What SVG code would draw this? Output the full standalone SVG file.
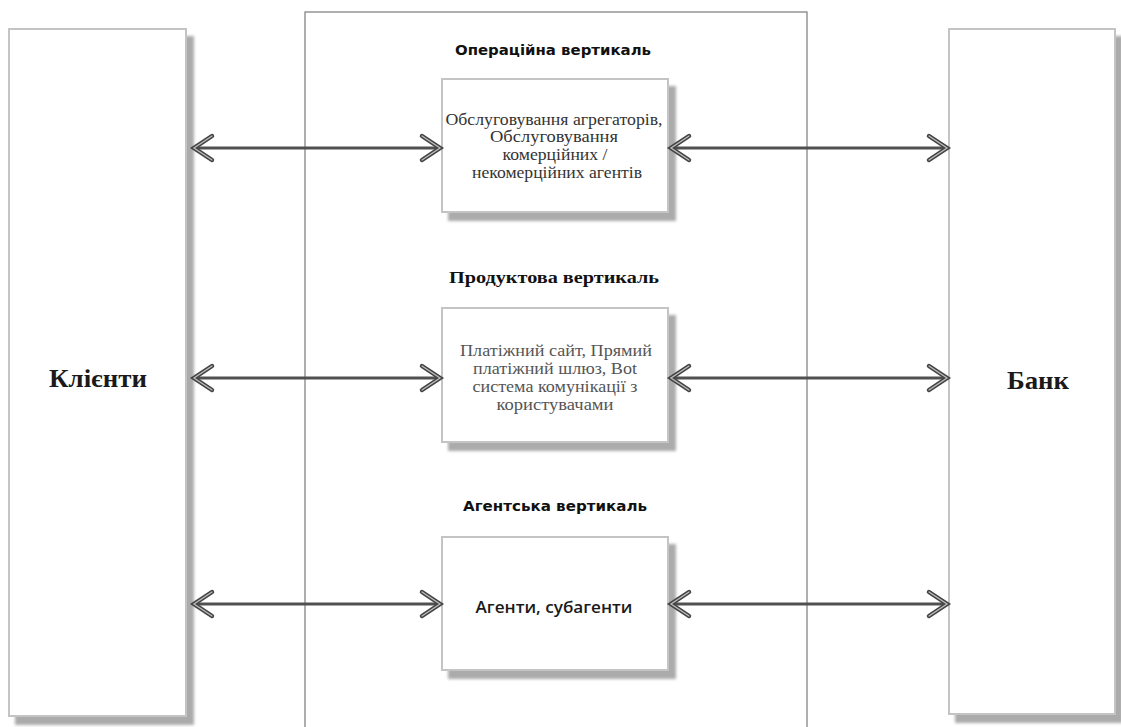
<svg xmlns="http://www.w3.org/2000/svg" width="1121" height="727" viewBox="0 0 1121 727">
  <style>
    .box { fill: #ffffff; stroke: #c4c4c4; stroke-width: 2; filter: url(#shadow); }
    .frame { fill: none; stroke: #7a7a7a; stroke-width: 1.2; }
    .link { stroke: #505050; stroke-width: 3; fill: none; marker-start: url(#chev); marker-end: url(#chev); }
    .big { font-family: "Liberation Serif", "Times New Roman", serif; font-weight: bold; font-size: 25px; fill: #1a1a1a; text-anchor: middle; }
    .title { font-family: "DejaVu Sans", Tahoma, sans-serif; font-weight: bold; font-size: 14px; fill: #111; text-anchor: middle; }
    .title-serif { font-family: "Liberation Serif", "Times New Roman", serif; font-weight: bold; font-size: 17px; fill: #111; text-anchor: middle; }
    .body { font-family: "Liberation Serif", "Times New Roman", serif; font-size: 16px; fill: #333; text-anchor: middle; }
    .body-grey { font-family: "Liberation Serif", "Times New Roman", serif; font-size: 16px; fill: #555; text-anchor: middle; }
    .body-sans { font-family: "Open Sans", "Liberation Sans", Arial, sans-serif; font-size: 16px; font-weight: 600; fill: #1a1a1a; text-anchor: middle; }
  </style>
  <defs>
    <filter id="shadow" x="-10%" y="-10%" width="130%" height="130%">
      <feDropShadow dx="7" dy="8" stdDeviation="1.5" flood-color="#8f8f8f" flood-opacity="0.75"/>
    </filter>
    <!-- open double-outlined chevron arrowhead, tip at origin, opening backwards -->
    <marker id="chev" viewBox="-24 -16 28 32" markerWidth="28" markerHeight="32" refX="0" refY="0" orient="auto-start-reverse" markerUnits="userSpaceOnUse">
      <path d="M-19,-12 L-1,0 L-19,12" fill="none" stroke="#444" stroke-width="4.5" stroke-linejoin="miter" stroke-linecap="round"/>
      <path d="M-19,-12 L-1,0 L-19,12" fill="none" stroke="#bdbdbd" stroke-width="1.3" stroke-linejoin="miter" stroke-linecap="round"/>
    </marker>
  </defs>

  <rect width="1121" height="727" fill="#ffffff"/>

  <!-- central frame holding the three verticals -->
  <rect class="frame" x="305" y="12" width="502" height="730"/>

  <g id="clients">
    <rect class="box" x="9" y="29" width="177" height="687"/>
    <text class="big" x="98" y="387" textLength="98" lengthAdjust="spacingAndGlyphs">Клієнти</text>
  </g>

  <g id="bank">
    <rect class="box" x="949" y="29" width="166" height="685"/>
    <text class="big" x="1038" y="389" textLength="62" lengthAdjust="spacingAndGlyphs">Банк</text>
  </g>

  <g id="operational">
    <text class="title" x="553" y="55" textLength="196" lengthAdjust="spacingAndGlyphs">Операційна вертикаль</text>
    <rect class="box" x="442" y="79" width="226" height="133"/>
    <text class="body" x="554" y="125" textLength="217" lengthAdjust="spacingAndGlyphs">Обслуговування агрегаторів,</text>
    <text class="body" x="554" y="142" textLength="128" lengthAdjust="spacingAndGlyphs">Обслуговування</text>
    <text class="body" x="555" y="160" textLength="105" lengthAdjust="spacingAndGlyphs">комерційних /</text>
    <text class="body" x="557" y="178" textLength="170" lengthAdjust="spacingAndGlyphs">некомерційних агентів</text>
  </g>

  <g id="product">
    <text class="title-serif" x="554" y="283" textLength="210" lengthAdjust="spacingAndGlyphs">Продуктова вертикаль</text>
    <rect class="box" x="442" y="308" width="226" height="134"/>
    <text class="body-grey" x="556" y="356" textLength="192" lengthAdjust="spacingAndGlyphs">Платіжний сайт, Прямий</text>
    <text class="body-grey" x="555" y="374" textLength="164" lengthAdjust="spacingAndGlyphs">платіжний шлюз, Bot</text>
    <text class="body-grey" x="555" y="392" textLength="165" lengthAdjust="spacingAndGlyphs">система комунікації з</text>
    <text class="body-grey" x="555" y="410" textLength="117" lengthAdjust="spacingAndGlyphs">користувачами</text>
  </g>

  <g id="agent">
    <text class="title" x="555" y="511" textLength="184" lengthAdjust="spacingAndGlyphs">Агентська вертикаль</text>
    <rect class="box" x="442" y="537" width="226" height="133"/>
    <text class="body-sans" x="554" y="613" textLength="157" lengthAdjust="spacingAndGlyphs">Агенти, субагенти</text>
  </g>

  <g id="connectors">
    <line class="link" x1="193" y1="148" x2="441" y2="148"/>
    <line class="link" x1="670" y1="148" x2="948" y2="148"/>
    <line class="link" x1="193" y1="378" x2="441" y2="378"/>
    <line class="link" x1="670" y1="378" x2="948" y2="378"/>
    <line class="link" x1="193" y1="604" x2="441" y2="604"/>
    <line class="link" x1="670" y1="604" x2="948" y2="604"/>
  </g>
</svg>
